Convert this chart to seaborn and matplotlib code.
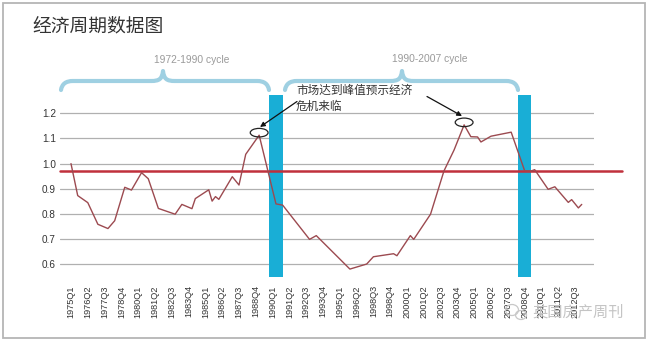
import numpy as np
import pandas as pd
import matplotlib
matplotlib.use("Agg")
import matplotlib.pyplot as plt
import seaborn as sns
from matplotlib.patches import Ellipse, Rectangle, PathPatch
from matplotlib.path import Path

# ---------------- data ----------------
vertex_quarters = ["1975Q1", "1975Q3", "1976Q2", "1977Q1", "1977Q4", "1978Q2", "1979Q1",
                   "1979Q3", "1980Q2", "1980Q4", "1981Q3", "1982Q4", "1983Q2", "1984Q1",
                   "1984Q2", "1985Q2", "1985Q3", "1985Q4", "1986Q1", "1987Q1", "1987Q3",
                   "1988Q1", "1989Q1", "1990Q2", "1990Q4", "1992Q4", "1993Q2", "1995Q4",
                   "1997Q1", "1997Q3", "1999Q1", "1999Q2", "2000Q2", "2000Q3", "2001Q4",
                   "2002Q4", "2003Q3", "2004Q2", "2004Q4", "2005Q2", "2005Q3", "2006Q2",
                   "2007Q4", "2008Q4", "2009Q2", "2009Q3", "2010Q3", "2011Q1", "2012Q1",
                   "2012Q2", "2012Q4", "2013Q1"]
values = [1.00, 0.873, 0.845, 0.759, 0.742, 0.773, 0.906,
          0.895, 0.964, 0.940, 0.822, 0.799, 0.838, 0.821,
          0.861, 0.896, 0.851, 0.869, 0.858, 0.948, 0.915,
          1.037, 1.113, 0.840, 0.835, 0.699, 0.714, 0.581,
          0.601, 0.630, 0.642, 0.634, 0.714, 0.699, 0.799,
          0.971, 1.054, 1.154, 1.107, 1.106, 1.086, 1.109,
          1.125, 0.972, 0.971, 0.976, 0.898, 0.908, 0.846,
          0.857, 0.824, 0.838]
tick_labels = ["1975Q1", "1976Q2", "1977Q3", "1978Q4", "1980Q1", "1981Q2", "1982Q3",
               "1983Q4", "1985Q1", "1986Q2", "1987Q3", "1988Q4", "1990Q1", "1991Q2",
               "1992Q3", "1993Q4", "1995Q1", "1996Q2", "1998Q3", "1998Q4", "2000Q1",
               "2001Q2", "2002Q3", "2003Q4", "2005Q1", "2006Q2", "2007Q3", "2008Q4",
               "2010Q1", "2011Q2", "2012Q3"]
y_ticks = [0.6, 0.7, 0.8, 0.9, 1.0, 1.1, 1.2]
average_level = 0.97
recession_start = ["1989Q4", "2008Q2"]
recession_end = ["1990Q4", "2009Q2"]
peak_quarters = ["1989Q1", "2004Q2"]
cycle_labels = ["1972-1990 cycle", "1990-2007 cycle"]
title = "经济周期数据图"
note = "市场达到峰值预示经济\n危机来临"
watermark = "英国房产周刊"


def qidx(s):
    y, q = s.split("Q")
    return (int(y) - 1975) * 4 + int(q) - 1


df = pd.DataFrame({"q": [qidx(s) for s in vertex_quarters], "value": values})

# ---------------- style ----------------
sns.set_theme(style="white")
plt.rcParams["font.family"] = ["Liberation Sans", "Noto Sans CJK SC", "DejaVu Sans"]
cjk = ["Noto Sans CJK SC", "DejaVu Sans"]

W, H = 650, 343
fig = plt.figure(figsize=(W / 100, H / 100), dpi=100)
fig.patch.set_facecolor("white")

# main axes (pixel layout: x 60..594, y 95..277)
ax = fig.add_axes([60 / W, (H - 277) / H, 534 / W, 182 / H])
ax.set_facecolor("none")
ax.set_xlim(-3.27, 155.65)
ax.set_ylim(0.5495, 1.2727)

for yv in y_ticks:
    ax.axhline(yv, color="#b0b0b0", lw=0.9, zorder=1)

for s, e in zip(recession_start, recession_end):
    ax.axvspan(qidx(s), qidx(e), color="#19aed6", lw=0, zorder=2)

ax.axhline(average_level, xmin=0, xmax=(622 - 60) / 534, color="#c0303c",
           lw=1.8, zorder=3, clip_on=False)

sns.lineplot(data=df, x="q", y="value", ax=ax, color="#9c4a50", lw=1.0, zorder=4)

for pq in peak_quarters:
    pv = df.loc[df["q"] == qidx(pq), "value"].iloc[0]
    ax.add_patch(Ellipse((qidx(pq), pv + 0.01), width=5.3, height=0.034,
                         fill=False, ec="#222222", lw=0.9, zorder=5))

ax.set_xticks(range(0, 151, 5))
ax.set_xticklabels(tick_labels, rotation=90, fontsize=6.6, color="#333333", va="top")
ax.set_yticks(y_ticks)
ax.set_yticklabels([f"{v:.1f}" for v in y_ticks], fontsize=7.2, color="#333333")
ax.tick_params(axis="x", length=0, pad=6)
ax.tick_params(axis="y", length=0, pad=3)
ax.set_xlabel("")
ax.set_ylabel("")
for sp in ax.spines.values():
    sp.set_visible(False)

# overlay axes in pixel coordinates
ov = fig.add_axes([0, 0, 1, 1])
ov.set_xlim(0, W)
ov.set_ylim(H, 0)
ov.axis("off")
ov.patch.set_visible(False)

ov.add_patch(Rectangle((3, 3), 642, 335, fill=False, ec="#b5b5b5", lw=1.3))

ov.text(32, 26, title, fontsize=13.5, color="#333333", family=cjk, va="center", ha="left")


def brace(x0, x1, xt, yb=90, ym=81, ytip=71, r=12):
    verts = [(x0, yb),
             (x0 + 1, ym + 3), (x0 + r * 0.4, ym), (x0 + r, ym),
             (xt - r, ym),
             (xt - r * 0.3, ym), (xt - 1, ym - 2), (xt, ytip),
             (xt + 1, ym - 2), (xt + r * 0.3, ym), (xt + r, ym),
             (x1 - r, ym),
             (x1 - r * 0.4, ym), (x1 - 1, ym + 3), (x1, yb)]
    codes = [Path.MOVETO,
             Path.CURVE4, Path.CURVE4, Path.CURVE4,
             Path.LINETO,
             Path.CURVE4, Path.CURVE4, Path.CURVE4,
             Path.CURVE4, Path.CURVE4, Path.CURVE4,
             Path.LINETO,
             Path.CURVE4, Path.CURVE4, Path.CURVE4]
    ov.add_patch(PathPatch(Path(verts, codes), fill=False, ec="#9fd0e2", lw=3.0,
                           capstyle="round", joinstyle="round"))


brace(61, 269, 163)
brace(285, 518, 402)
ov.text(192, 60, cycle_labels[0], fontsize=7.4, color="#9a9a9a", ha="center", va="center")
ov.text(430, 59.5, cycle_labels[1], fontsize=7.4, color="#9a9a9a", ha="center", va="center")

ov.text(296, 98.5, note, fontsize=8.4, color="#333333", family=cjk, ha="left",
        va="center", linespacing=1.25)

ov.annotate("", xy=(260, 127), xytext=(297, 101.5),
            arrowprops=dict(arrowstyle="-|>", color="#111111", lw=0.9,
                            mutation_scale=7, shrinkA=0, shrinkB=0))
ov.annotate("", xy=(462, 116), xytext=(427, 96.5),
            arrowprops=dict(arrowstyle="-|>", color="#111111", lw=0.9,
                            mutation_scale=7, shrinkA=0, shrinkB=0))

# watermark
ov.add_patch(Ellipse((512, 310), 13, 11, fill=False, ec="#c8c8c8", lw=0.9))
ov.add_patch(Ellipse((521, 315), 11, 9, fill=False, ec="#c8c8c8", lw=0.9))
ov.text(532, 312, watermark, fontsize=11, color="#c4c4c4", family=cjk, ha="left", va="center")

fig.savefig("out.png", dpi=100)
